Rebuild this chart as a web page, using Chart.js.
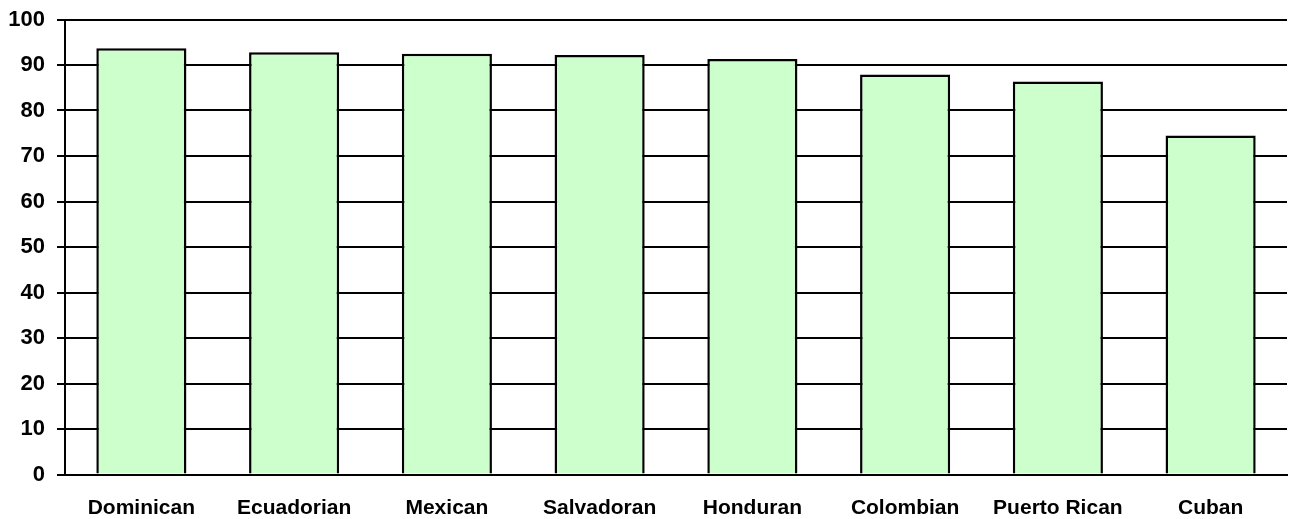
<!DOCTYPE html>
<html lang="en">
<head>
    <meta charset="UTF-8">
    <title>Bar chart</title>
    <script src="https://cdn.jsdelivr.net/npm/chart.js"></script>
    <style>
        * {
            margin: 0;
            padding: 0;
            box-sizing: border-box;
        }
        body {
            background-color: #ffffff;
        }
        .chart-container {
            position: relative;
            width: 1292px;
            height: 519px;
        }
    </style>
</head>
<body>
    <div class="chart-container">
        <canvas id="barChart"></canvas>
    </div>

    <script>
        // data
        const groups = ['Dominican', 'Ecuadorian', 'Mexican', 'Salvadoran', 'Honduran', 'Colombian', 'Puerto Rican', 'Cuban'];
        const percents = [93.7, 92.8, 92.5, 92.2, 91.3, 87.9, 86.4, 74.5];
        const yMin = 0;
        const yMax = 100;
        const yStep = 10;

        const family = "'Liberation Sans', Arial, sans-serif";

        new Chart(document.getElementById('barChart').getContext('2d'), {
            type: 'bar',
            data: {
                labels: groups,
                datasets: [{
                    data: percents,
                    backgroundColor: '#ccffcc',
                    borderColor: '#000000',
                    borderWidth: 2.5,
                    borderSkipped: 'start',
                    categoryPercentage: 1.0,
                    barPercentage: 0.59
                }]
            },
            options: {
                responsive: true,
                maintainAspectRatio: false,
                animation: false,
                layout: {
                    padding: { top: 19.5, right: 5, left: 0, bottom: 0 }
                },
                plugins: {
                    legend: { display: false },
                    tooltip: { enabled: false }
                },
                scales: {
                    x: {
                        grid: { display: false },
                        border: { display: true, color: '#000000', width: 2 },
                        ticks: { color: '#000000', font: { family: family, size: 21, weight: 'bold' }, padding: 13, maxRotation: 0 },
                        afterFit: function(scale) { scale.height = 44.5; }
                    },
                    y: {
                        min: yMin,
                        max: yMax,
                        grid: { color: '#000000', lineWidth: 2, tickLength: 8, drawTicks: true },
                        border: { display: true, color: '#000000', width: 2 },
                        ticks: { stepSize: yStep, color: '#000000', font: { family: family, size: 22, weight: 'bold' }, padding: 12 },
                        afterFit: function(scale) {
                            scale.width = 65;
                            // let the layout padding decide where the plot starts
                            scale.paddingTop = 0;
                            scale.paddingBottom = 0;
                        }
                    }
                }
            }
        });
    </script>
</body>
</html>
